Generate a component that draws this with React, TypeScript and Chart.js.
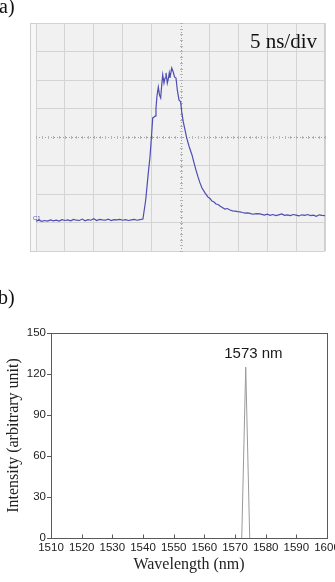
import React, { useEffect, useRef } from "react";
import { Chart, registerables } from "chart.js";

Chart.register(...registerables);

// ---------- Panel (a): oscilloscope trace ----------
const timeMinNs = 0;
const timeMaxNs = 50;
const timePerDivNs = 5;
const ampMinDiv = 0;
const ampMaxDiv = 8;
const timebaseLabel = "5 ns/div";
const channelLabel = "C1";

const pulseTimeNs = [
  0, 0.5, 1, 1.5, 2, 2.5, 3, 3.5, 4, 4.5, 5, 5.5, 6, 6.5, 7, 7.5, 8, 8.5, 9, 9.5,
  10, 10.5, 11, 11.5, 12, 12.5, 13, 13.5, 14, 14.5, 15, 15.5, 16, 16.5, 17, 17.5, 18, 18.5,
  18.98, 19.43, 19.72, 20.02, 20.19, 20.42, 20.67, 20.76, 20.93, 21.16,
  21.37, 21.57, 21.75, 21.92, 22.14, 22.32, 22.49, 22.72, 22.89, 23.06,
  23.18, 23.48, 23.75, 23.96, 24.22, 24.45, 24.74, 25.03, 25.21, 25.48,
  25.78, 26.07, 26.52, 26.99, 27.34, 27.68, 28.03, 28.37, 28.72, 29.24,
  29.76, 30.1, 30.45, 30.8, 31.14, 31.5, 31.83, 32.3, 32.7, 33.1, 33.56, 34.0, 34.43, 34.9,
  35.29, 35.7, 36.16, 36.6, 37.02, 37.5, 37.89, 38.3, 38.75,
  39.5, 40, 40.5, 41, 41.5, 42, 42.5, 43, 43.5, 44, 44.5, 45, 45.5, 46, 46.5, 47,
  47.5, 48, 48.5, 49, 49.5, 50,
];

const pulseSignalDiv = [
  1.05, 1.08, 1.04, 1.07, 1.05, 1.09, 1.06, 1.08, 1.05, 1.1, 1.07, 1.09, 1.06, 1.11, 1.08, 1.07,
  1.12, 1.06, 1.1, 1.08, 1.13, 1.07, 1.11, 1.09, 1.08, 1.12, 1.07, 1.1, 1.09, 1.11, 1.08, 1.1,
  1.07, 1.09, 1.11, 1.08, 1.1, 1.12,
  1.79, 2.74, 3.3, 4.14, 4.67, 4.7, 4.74, 5.02, 5.44, 5.75,
  5.47, 5.37, 5.82, 6.18, 5.89, 6.07, 6.25, 5.89, 6.04, 6.25,
  6.07, 6.42, 6.28, 6.11, 6.07, 5.65, 5.3, 5.23, 4.88, 4.53,
  4.25, 3.97, 3.65, 3.37, 3.09, 2.84, 2.6, 2.39, 2.21, 2.04,
  1.89, 1.84, 1.75, 1.72, 1.65, 1.63, 1.58, 1.52, 1.47, 1.49, 1.44, 1.41, 1.4, 1.38,
  1.37, 1.35, 1.33, 1.34, 1.32, 1.29, 1.3, 1.31, 1.3,
  1.26, 1.29, 1.25, 1.28, 1.24, 1.27, 1.3, 1.25, 1.27, 1.24, 1.28, 1.26, 1.23, 1.27, 1.25, 1.28,
  1.24, 1.26, 1.22, 1.27, 1.25, 1.24,
];

// ---------- Panel (b): spectrum ----------
const wavelengthMin = 1510;
const wavelengthMax = 1600;
const wavelengthStep = 10;
const intensityMin = 0;
const intensityMax = 150;
const intensityStep = 30;
const spectrumWavelengthNm = [1572.2, 1573.5, 1574.8];
const spectrumIntensity = [0, 125, 0];
const peakLabel = "1573 nm";
const peakLabelWavelength = 1576;
const peakLabelIntensity = 135;
const xTitle = "Wavelength (nm)";
const yTitle = "Intensity (arbitrary unit)";

const SANS = "'Liberation Sans', Arial, sans-serif";
const SERIF = "'Liberation Serif', 'Times New Roman', serif";

function ScopeChart() {
  const ref = useRef<HTMLCanvasElement | null>(null);
  useEffect(() => {
    if (!ref.current) return;
    const scopePlugin = {
      id: "scopeDecor",
      beforeDraw(chart: any) {
        const { ctx, chartArea } = chart;
        ctx.save();
        ctx.fillStyle = "#f7f7f7";
        ctx.fillRect(chartArea.left - 6, chartArea.top, chartArea.right - chartArea.left + 6, chartArea.bottom - chartArea.top);
        ctx.fillStyle = "#f1f1f1";
        ctx.fillRect(chartArea.left, chartArea.top, chartArea.right - chartArea.left, chartArea.bottom - chartArea.top);
        ctx.strokeStyle = "#cfcfcf";
        ctx.lineWidth = 1;
        ctx.strokeRect(chartArea.left - 5.5, chartArea.top + 0.5, chartArea.right - chartArea.left + 5, chartArea.bottom - chartArea.top);
        ctx.restore();
      },
      beforeDatasetsDraw(chart: any) {
        const { ctx, chartArea, scales } = chart;
        const x = scales.x;
        const y = scales.y;
        const cx = Math.round(x.getPixelForValue((timeMinNs + timeMaxNs) / 2)) + 0.5;
        const cy = Math.round(y.getPixelForValue((ampMinDiv + ampMaxDiv) / 2)) + 0.5;
        ctx.save();
        ctx.strokeStyle = "#a0a0a0";
        ctx.lineWidth = 1;
        ctx.setLineDash([1, 2]);
        ctx.beginPath();
        ctx.moveTo(cx, chartArea.top);
        ctx.lineTo(cx, chartArea.bottom);
        ctx.moveTo(chartArea.left, cy);
        ctx.lineTo(chartArea.right, cy);
        ctx.stroke();
        ctx.setLineDash([]);
        ctx.strokeStyle = "#b4b4b4";
        ctx.beginPath();
        for (let t = timeMinNs; t <= timeMaxNs + 1e-6; t += timePerDivNs / 5) {
          const px = Math.round(x.getPixelForValue(t)) + 0.5;
          ctx.moveTo(px, cy - 1.5);
          ctx.lineTo(px, cy + 1.5);
        }
        for (let v = ampMinDiv; v <= ampMaxDiv + 1e-6; v += 0.2) {
          const py = Math.round(y.getPixelForValue(v)) + 0.5;
          ctx.moveTo(cx - 1.5, py);
          ctx.lineTo(cx + 1.5, py);
        }
        ctx.stroke();
        ctx.restore();
      },
      afterDraw(chart: any) {
        const { ctx, chartArea, scales } = chart;
        ctx.save();
        ctx.fillStyle = "#111";
        ctx.font = `21px ${SERIF}`;
        ctx.textAlign = "right";
        ctx.textBaseline = "alphabetic";
        ctx.fillText(timebaseLabel, chartArea.right - 8, chartArea.top + 25);
        ctx.fillStyle = "#4b4bb0";
        ctx.font = `6px ${SANS}`;
        ctx.textAlign = "left";
        ctx.fillText(channelLabel, chartArea.left - 3, scales.y.getPixelForValue(pulseSignalDiv[0]) - 1);
        ctx.restore();
      },
    };
    const chart = new Chart(ref.current, {
      type: "line",
      data: {
        datasets: [
          {
            data: pulseTimeNs.map((t, i) => ({ x: t, y: pulseSignalDiv[i] })),
            borderColor: "#4d4db2",
            borderWidth: 1.2,
            pointRadius: 0,
            tension: 0,
          },
        ],
      },
      options: {
        animation: false,
        responsive: false,
        events: [],
        layout: { padding: { left: 36, top: 23, right: 10, bottom: 7 } },
        plugins: { legend: { display: false }, tooltip: { enabled: false } },
        scales: {
          x: {
            type: "linear",
            min: timeMinNs,
            max: timeMaxNs,
            ticks: { display: false, stepSize: timePerDivNs },
            grid: {
              drawTicks: false,
              color: (c: any) => (c.tick && c.tick.value === (timeMinNs + timeMaxNs) / 2 ? "rgba(0,0,0,0)" : "#d3d3d3"),
            },
            border: { display: false },
          },
          y: {
            type: "linear",
            min: ampMinDiv,
            max: ampMaxDiv,
            ticks: { display: false, stepSize: 1 },
            grid: {
              drawTicks: false,
              color: (c: any) => (c.tick && c.tick.value === (ampMinDiv + ampMaxDiv) / 2 ? "rgba(0,0,0,0)" : "#d3d3d3"),
            },
            border: { display: false },
          },
        },
      } as any,
      plugins: [scopePlugin],
    });
    return () => chart.destroy();
  }, []);
  return <canvas ref={ref} width={335} height={258} />;
}

function SpectrumChart() {
  const ref = useRef<HTMLCanvasElement | null>(null);
  useEffect(() => {
    if (!ref.current) return;
    const framePlugin = {
      id: "frameDecor",
      afterDatasetsDraw(chart: any) {
        const { ctx, chartArea, scales } = chart;
        const l = Math.round(chartArea.left) + 0.5;
        const t = Math.round(chartArea.top) + 0.5;
        const r = Math.round(chartArea.right) + 0.5;
        const b = Math.round(chartArea.bottom) + 0.5;
        ctx.save();
        ctx.strokeStyle = "#5a5a5a";
        ctx.lineWidth = 1;
        ctx.strokeRect(l, t, r - l, b - t);
        ctx.beginPath();
        scales.x.ticks.forEach((tk: any) => {
          if (tk.value <= wavelengthMin || tk.value >= wavelengthMax) return;
          const px = Math.round(scales.x.getPixelForValue(tk.value)) + 0.5;
          ctx.moveTo(px, b);
          ctx.lineTo(px, b - 4);
        });
        ctx.stroke();
        ctx.fillStyle = "#1a1a1a";
        ctx.font = `15px ${SANS}`;
        ctx.textAlign = "center";
        ctx.textBaseline = "middle";
        ctx.fillText(
          peakLabel,
          scales.x.getPixelForValue(peakLabelWavelength),
          scales.y.getPixelForValue(peakLabelIntensity)
        );
        ctx.restore();
      },
    };
    const chart = new Chart(ref.current, {
      type: "line",
      data: {
        datasets: [
          {
            data: spectrumWavelengthNm.map((w, i) => ({ x: w, y: spectrumIntensity[i] })),
            borderColor: "#9a9a9a",
            borderWidth: 1,
            pointRadius: 0,
            tension: 0,
          },
        ],
      },
      options: {
        animation: false,
        responsive: false,
        events: [],
        layout: { padding: { left: 0, top: 63, right: 18, bottom: 0 } },
        plugins: { legend: { display: false }, tooltip: { enabled: false } },
        scales: {
          x: {
            type: "linear",
            min: wavelengthMin,
            max: wavelengthMax,
            afterFit: (s: any) => {
              s.height = 44;
            },
            ticks: {
              stepSize: wavelengthStep,
              padding: 3,
              color: "#222",
              font: { family: SANS, size: 11.5 },
              maxRotation: 0,
              autoSkip: false,
              callback: (v: any) => String(v),
            },
            grid: { drawOnChartArea: false, drawTicks: false },
            border: { color: "#5a5a5a" },
            title: {
              display: true,
              text: xTitle,
              color: "#222",
              font: { family: SERIF, size: 16 },
              padding: { top: 2, bottom: 8 },
            },
          },
          y: {
            type: "linear",
            min: intensityMin,
            max: intensityMax,
            afterFit: (s: any) => {
              s.width = 51;
            },
            ticks: {
              stepSize: intensityStep,
              padding: 1,
              color: "#222",
              font: { family: SANS, size: 11.5 },
            },
            grid: { drawOnChartArea: false, drawTicks: true, tickLength: 4, color: "#5a5a5a", tickColor: "#5a5a5a" },
            border: { color: "#5a5a5a" },
            title: {
              display: true,
              text: yTitle,
              color: "#222",
              font: { family: SERIF, size: 16 },
              padding: { top: 4, bottom: 4 },
            },
          },
        },
      } as any,
      plugins: [framePlugin],
    });
    return () => chart.destroy();
  }, []);
  return <canvas ref={ref} width={345} height={312} />;
}

export default function App() {
  const labelStyle: React.CSSProperties = {
    position: "absolute",
    fontFamily: SERIF,
    fontSize: 20,
    lineHeight: "20px",
    color: "#111",
    margin: 0,
  };
  return (
    <div
      style={{
        position: "absolute",
        left: 0,
        top: 0,
        width: 335,
        height: 582,
        overflow: "hidden",
        background: "#fff",
      }}
    >
      <div style={{ position: "absolute", left: 0, top: 0, width: 335, height: 258 }}>
        <ScopeChart />
      </div>
      <div style={{ position: "absolute", left: 0, top: 270, width: 345, height: 312 }}>
        <SpectrumChart />
      </div>
      <div style={{ ...labelStyle, left: -1, top: -4 }}>a)</div>
      <div style={{ ...labelStyle, left: -2, top: 287 }}>b)</div>
    </div>
  );
}
